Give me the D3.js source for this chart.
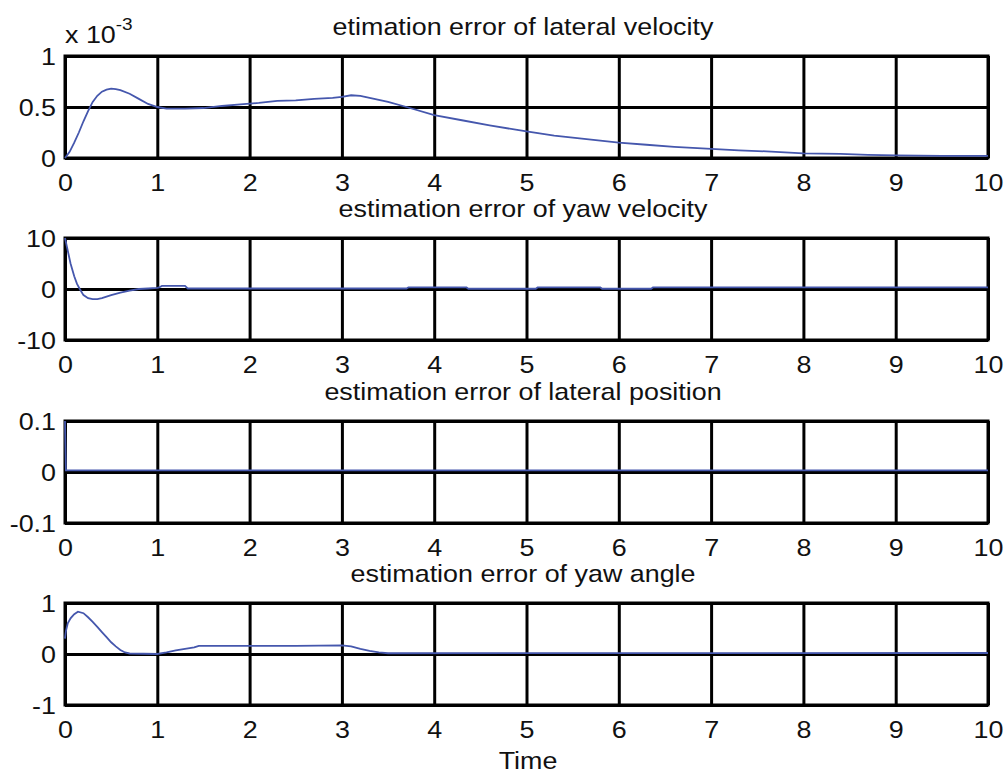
<!DOCTYPE html>
<html><head><meta charset="utf-8">
<script src="https://cdn.jsdelivr.net/npm/d3@7"></script>
<style>
body{margin:0;background:#fff;}
text{font-family:"Liberation Sans",Arial,sans-serif;fill:#111;}
</style></head>
<body>
<svg id="c" width="1005" height="776"></svg>
<script>
// ---- data ----
const titles = ["etimation error of lateral velocity","estimation error of yaw velocity","estimation error of lateral position","estimation error of yaw angle"];
const xTicks = [0,1,2,3,4,5,6,7,8,9,10];
const yTicks1 = [0,0.5,1];
const yTicks2 = [-10,0,10];
const yTicks3 = [-0.1,0,0.1];
const yTicks4 = [-1,0,1];
const yLabels1 = ["0","0.5","1"];
const yLabels2 = ["-10","0","10"];
const yLabels3 = ["-0.1","0","0.1"];
const yLabels4 = ["-1","0","1"];
// lateral velocity error (x 1e-3)
const t1 = [0,0.05,0.1,0.15,0.2,0.25,0.3,0.35,0.4,0.45,0.5,0.55,0.6,0.7,0.8,0.9,1.0,1.1,1.3,1.5,1.7,1.9,2.1,2.3,2.5,2.7,2.9,3.0,3.1,3.2,3.3,3.5,3.7,4.0,4.3,4.6,5.0,5.3,5.6,6.0,6.3,6.6,7.0,7.3,7.6,8.0,8.4,8.7,9.0,9.5,10];
const v1 = [0,0.06,0.15,0.25,0.36,0.46,0.55,0.61,0.65,0.67,0.68,0.675,0.665,0.63,0.58,0.53,0.50,0.485,0.485,0.49,0.51,0.525,0.54,0.56,0.565,0.58,0.59,0.60,0.615,0.61,0.59,0.55,0.50,0.42,0.37,0.32,0.26,0.22,0.19,0.15,0.13,0.11,0.09,0.075,0.065,0.045,0.04,0.03,0.025,0.02,0.02];
// yaw velocity error
const t2 = [0,0.03,0.06,0.1,0.13,0.16,0.2,0.25,0.3,0.35,0.4,0.45,0.5,0.6,0.7,0.8,0.9,1.0,1.02,1.05,1.3,1.33,3.7,3.72,4.35,4.37,5.1,5.12,5.8,5.82,6.35,6.37,10];
const v2 = [10,7.5,5,2.5,1,0,-1.2,-1.8,-2.0,-2.0,-1.8,-1.5,-1.2,-0.7,-0.3,0,0.1,0.2,0.3,0.6,0.6,0.1,0.1,0.3,0.3,0.05,0.05,0.3,0.3,0.05,0.05,0.3,0.3];
// lateral position error
const t3 = [0,0.01,10];
const v3 = [0.1,0.003,0.003];
// yaw angle error
const t4 = [0,0.01,0.03,0.06,0.1,0.14,0.2,0.25,0.3,0.35,0.4,0.45,0.5,0.55,0.6,0.65,0.7,1.0,1.1,1.2,1.3,1.4,1.45,2.0,2.5,3.0,3.1,3.2,3.3,3.4,3.5,10];
const v4 = [0.3,0.45,0.6,0.7,0.78,0.83,0.8,0.72,0.63,0.53,0.43,0.33,0.23,0.15,0.08,0.03,0.01,0.0,0.03,0.07,0.1,0.13,0.16,0.16,0.16,0.17,0.15,0.1,0.06,0.03,0.015,0.02];

const panels = [
  {t:t1,v:v1,dom:[0,1],ticks:yTicks1,labels:yLabels1,title:titles[0],top:56},
  {t:t2,v:v2,dom:[-10,10],ticks:yTicks2,labels:yLabels2,title:titles[1],top:238},
  {t:t3,v:v3,dom:[-0.1,0.1],ticks:yTicks3,labels:yLabels3,title:titles[2],top:421},
  {t:t4,v:v4,dom:[-1,1],ticks:yTicks4,labels:yLabels4,title:titles[3],top:603}
];

const svg = d3.select("#c");
const L = 65, R = 988, H = 102;
const SX = 1.12, FS = 24;
const x = d3.scaleLinear().domain([0,10]).range([L,R]);
const lineColor = "#4557ad";

panels.forEach((p,i)=>{
  const y = d3.scaleLinear().domain(p.dom).range([p.top+H,p.top]);
  const g = svg.append("g");
  const gx = g.append("g").attr("transform",`translate(0,${p.top+H})`)
    .call(d3.axisBottom(x).tickValues(xTicks).tickSize(-H).tickSizeOuter(0).tickPadding(0).tickFormat(d3.format("d")));
  gx.select(".domain").remove();
  gx.selectAll("line").attr("stroke","#000").attr("stroke-width",3);
  gx.selectAll("text").attr("font-size",FS).attr("fill","#111")
    .attr("y",33).attr("dy",0).attr("transform",`scale(${SX},1)`);
  const gy = g.append("g").attr("transform",`translate(${L},0)`)
    .call(d3.axisLeft(y).tickValues(p.ticks).tickSize(-(R-L)).tickSizeOuter(0).tickPadding(0).tickFormat((d,j)=>p.labels[j]));
  gy.select(".domain").remove();
  gy.selectAll("line").attr("stroke","#000").attr("stroke-width",3);
  gy.selectAll("text").attr("font-size",FS).attr("fill","#111")
    .attr("x",-9/SX).attr("dy","0.35em").attr("transform",`scale(${SX},1)`);
  g.append("rect").attr("x",L).attr("y",p.top).attr("width",R-L).attr("height",H)
    .attr("fill","none").attr("stroke","#000").attr("stroke-width",3);
  const data = p.t.map((t,k)=>[t,p.v[k]]);
  g.append("path").datum(data)
    .attr("fill","none").attr("stroke",lineColor).attr("stroke-width",1.8)
    .attr("d",d3.line().x(d=>x(d[0])).y(d=>y(d[1])));
  g.append("text").attr("transform",`translate(523,${p.top-21}) scale(${SX},1)`)
    .attr("text-anchor","middle").attr("font-size",FS).text(p.title);
});

const ex = svg.append("text").attr("transform",`translate(65,43) scale(${SX},1)`).attr("font-size",FS);
ex.append("tspan").text("x 10");
ex.append("tspan").attr("dy",-13).attr("font-size",17).text("-3");

svg.append("text").attr("transform",`translate(528,769) scale(${SX},1)`)
  .attr("text-anchor","middle").attr("font-size",FS).text("Time");
</script>
</body></html>
